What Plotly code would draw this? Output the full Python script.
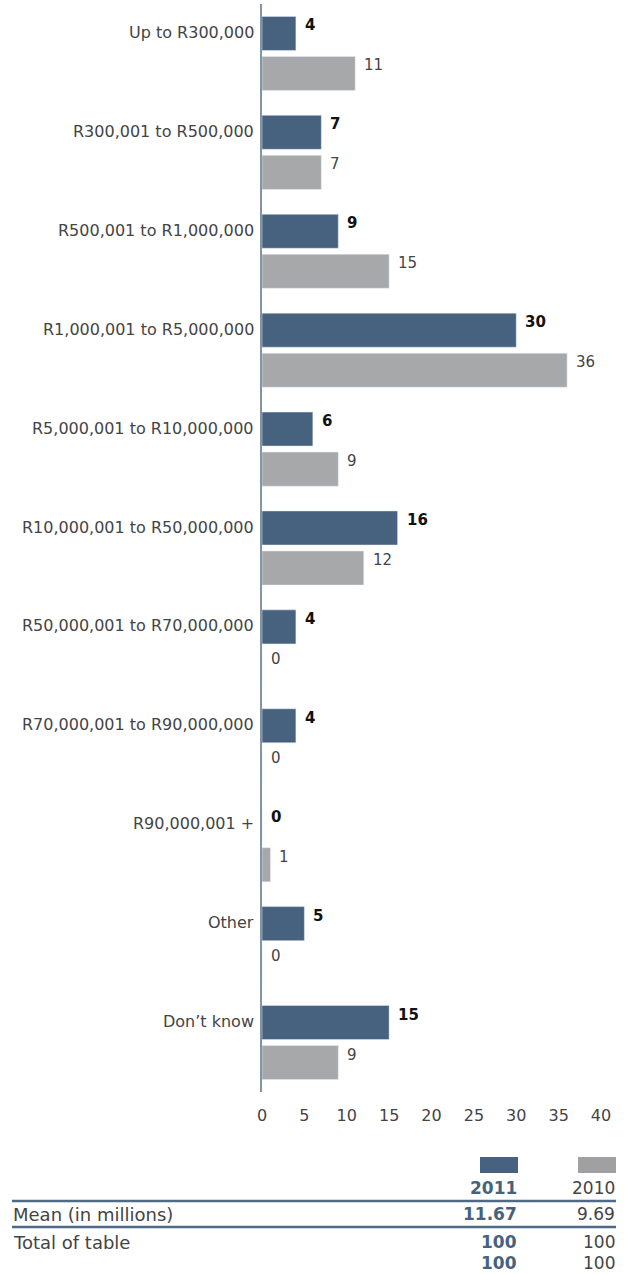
import plotly.graph_objects as go

# Data
categories = ['Up to R300,000', 'R300,001 to R500,000', 'R500,001 to R1,000,000',
              'R1,000,001 to R5,000,000', 'R5,000,001 to R10,000,000',
              'R10,000,001 to R50,000,000', 'R50,000,001 to R70,000,000',
              'R70,000,001 to R90,000,000', 'R90,000,001 +', 'Other', 'Don\u2019t know']
values_2011 = [4, 7, 9, 30, 6, 16, 4, 4, 0, 5, 15]
values_2010 = [11, 7, 15, 36, 9, 12, 0, 0, 1, 0, 9]
x_ticks = [0, 5, 10, 15, 20, 25, 30, 35, 40]

years = ['2011', '2010']
mean_row = ['11.67', '9.69']
total_rows = [['100', '100'], ['100', '100']]

dark = '#46627e'
grey = '#a7a8aa'
text_col = '#444444'
font = 'DejaVu Sans'

# plot area in pixels
W, H = 630, 1274
L, R, T, B = 262, 29, 4, 182
pw, ph = W - L - R, H - T - B


def px(xp):
    return (xp - L) / pw


def py(yp):
    return (H - B - yp) / ph


fig = go.Figure()
fig.add_trace(go.Bar(y=categories, x=values_2011, orientation='h', name='2011',
                     marker_color=dark, hoverinfo='x'))
fig.add_trace(go.Bar(y=categories, x=values_2010, orientation='h', name='2010',
                     marker_color=grey, hoverinfo='x'))

annotations = []
for cat, v1, v0 in zip(categories, values_2011, values_2010):
    # category label, aligned with the 2011 bar
    annotations.append(dict(x=0, y=cat, xref='x', yref='y', text=cat, showarrow=False,
                            xanchor='right', xshift=-6, yshift=21,
                            font=dict(size=16, color=text_col, family=font)))
    annotations.append(dict(x=v1, y=cat, xref='x', yref='y', text='<b>%d</b>' % v1,
                            showarrow=False, xanchor='left', xshift=7, yshift=28,
                            font=dict(size=15, color='#111111', family=font)))
    annotations.append(dict(x=v0, y=cat, xref='x', yref='y', text='%d' % v0,
                            showarrow=False, xanchor='left', xshift=7, yshift=-12,
                            font=dict(size=15, color=text_col, family=font)))

# table under the chart
col_right = [518, 616]
col_colors = [dark, text_col]
shapes = []
for xr, c in zip(col_right, [dark, '#a0a0a2']):
    shapes.append(dict(type='rect', xref='paper', yref='paper', x0=px(xr - 38), x1=px(xr),
                       y0=py(1173), y1=py(1157), fillcolor=c, line_width=0))
for yl in [1201, 1227]:
    shapes.append(dict(type='line', xref='paper', yref='paper', x0=px(12), x1=px(616),
                       y0=py(yl), y1=py(yl), line=dict(color='#4f6a85', width=2.5)))

rows = [(1188, None, years), (1214, 'Mean (in millions)', mean_row),
        (1242, 'Total of table', total_rows[0]), (1263, None, total_rows[1])]
for yc, label, cells in rows:
    if label:
        annotations.append(dict(x=px(11), y=py(yc), xref='paper', yref='paper', text=label,
                                showarrow=False, xanchor='left', yanchor='middle',
                                font=dict(size=18, color=text_col, family=font)))
    for i, cell in enumerate(cells):
        txt = '<b>%s</b>' % cell if i == 0 else cell
        annotations.append(dict(x=px(col_right[i] + 1), y=py(yc), xref='paper', yref='paper',
                                text=txt, showarrow=False, xanchor='right', yanchor='middle',
                                font=dict(size=17, color=col_colors[i], family=font)))

fig.update_layout(
    width=W, height=H,
    margin=dict(l=L, r=R, t=T, b=B),
    barmode='group', bargap=0.19, bargroupgap=0.15,
    plot_bgcolor='white', paper_bgcolor='white',
    showlegend=False,
    annotations=annotations, shapes=shapes,
    font=dict(family=font, color=text_col),
)
fig.update_xaxes(range=[0, 40], tickvals=x_ticks, showgrid=False, zeroline=False,
                 showline=False, ticks='', ticklabelstandoff=12,
                 tickfont=dict(size=16, color=text_col, family=font))
fig.update_yaxes(categoryorder='array', categoryarray=categories, autorange='reversed',
                 showticklabels=False, showgrid=False, zeroline=False, showline=True,
                 linecolor='#8194a8', linewidth=1.5, ticks='')

# page body has a default margin; drop it so the figure fills the window
fig.write_html('out.html', config={'displayModeBar': False},
               post_script="document.body.style.margin='0px';")
